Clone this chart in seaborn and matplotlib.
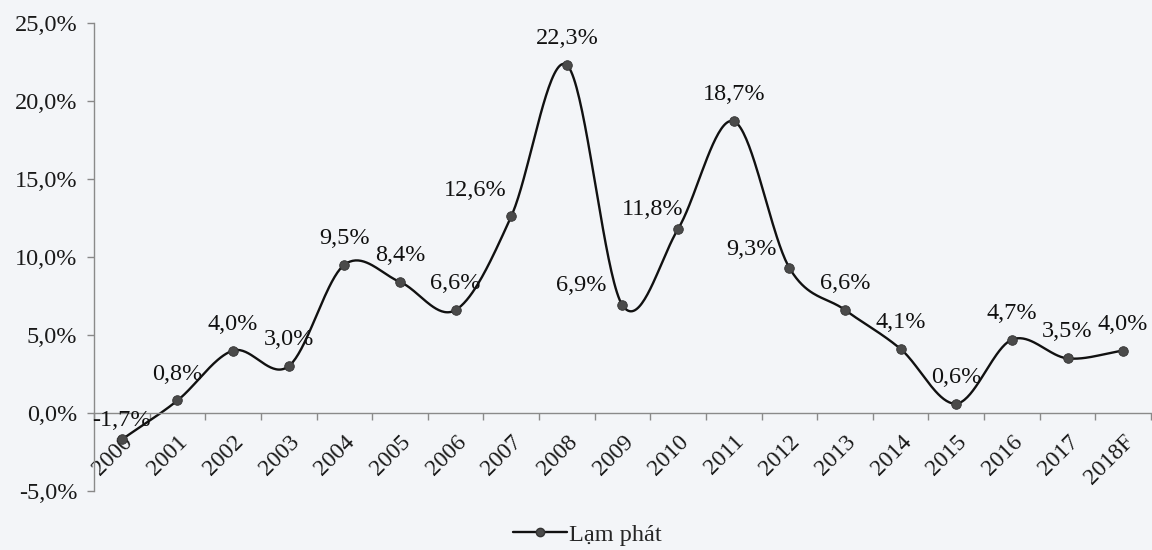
import numpy as np
import pandas as pd
import matplotlib
matplotlib.use("Agg")
import matplotlib.pyplot as plt
from matplotlib.ticker import FuncFormatter, FixedLocator
from matplotlib.lines import Line2D
import seaborn as sns

# Inflation by year (%)
years = ["2000", "2001", "2002", "2003", "2004", "2005", "2006", "2007", "2008", "2009",
         "2010", "2011", "2012", "2013", "2014", "2015", "2016", "2017", "2018F"]
inflation = [-1.7, 0.8, 4.0, 3.0, 9.5, 8.4, 6.6, 12.6, 22.3, 6.9,
             11.8, 18.7, 9.3, 6.6, 4.1, 0.6, 4.7, 3.5, 4.0]
series_name = "Lạm phát"
y_ticks = [-5, 0, 5, 10, 15, 20, 25]

# label placement (points, relative to the marker); default is centred above
label_shift = {"2000": (0, 14), "2007": (-26, 19), "2009": (-30, 14),
               "2010": (-18, 14), "2012": (-27, 13)}
default_shift = (0, 19)

sns.set_theme(style="white")
plt.rcParams["font.family"] = ["Liberation Serif", "DejaVu Serif"]

BG = "#f3f5f8"
FS = 17.5
fig = plt.figure(figsize=(11.52, 5.5), dpi=100, facecolor=BG)
ax = fig.add_axes([0.0816, 0.1073, 0.9175, 0.851], facecolor=BG)

x = np.arange(len(years))
y = np.array(inflation, dtype=float)

# smoothed curve: cubic Hermite with Catmull-Rom tangents
tang = np.empty_like(y)
tang[1:-1] = (y[2:] - y[:-2]) / 2.0
tang[0] = y[1] - y[0]
tang[-1] = y[-1] - y[-2]
xs, ys = [], []
t = np.linspace(0, 1, 40, endpoint=False)
h00 = 2 * t**3 - 3 * t**2 + 1
h10 = t**3 - 2 * t**2 + t
h01 = -2 * t**3 + 3 * t**2
h11 = t**3 - t**2
for i in range(len(y) - 1):
    xs.append(x[i] + t)
    ys.append(h00 * y[i] + h10 * tang[i] + h01 * y[i + 1] + h11 * tang[i + 1])
xs.append([x[-1]])
ys.append([y[-1]])
curve = pd.DataFrame({"x": np.concatenate(xs), "y": np.concatenate(ys)})
points = pd.DataFrame({"x": x, "y": y})

sns.lineplot(data=curve, x="x", y="y", ax=ax, color="#111111", linewidth=1.7,
             sort=False, estimator=None)
sns.scatterplot(data=points, x="x", y="y", ax=ax, color="#4a4a4a", s=48,
                edgecolor="#333333", linewidth=0.6, zorder=5)

# value labels
for yr, xi, v in zip(years, x, inflation):
    dx, dy = label_shift.get(yr, default_shift)
    txt = f"{v:.1f}".replace(".", ",") + "%"
    ax.annotate(txt, (xi, v), xytext=(dx, dy), textcoords="offset points",
                ha="center", va="center", fontsize=FS, color="#111111", zorder=6)

# axes
ax.set_xlim(-0.5, len(years) - 0.5)
ax.set_ylim(-5, 25)
ax.set_xlabel("")
ax.set_ylabel("")
ax.set_yticks(y_ticks)
ax.yaxis.set_major_formatter(FuncFormatter(lambda v, p: f"{v:.1f}".replace(".", ",") + "%"))
ax.tick_params(axis="y", which="major", direction="out", length=5, width=1,
               color="#888888", labelsize=FS, labelcolor="#1a1a1a", pad=7, left=True)

ax.spines["bottom"].set_position(("data", 0))
for s in ["top", "right"]:
    ax.spines[s].set_visible(False)
for s in ["left", "bottom"]:
    ax.spines[s].set_color("#8a8a8a")
    ax.spines[s].set_linewidth(1.0)

ax.set_xticks(x)
ax.set_xticklabels(years, rotation=45, ha="right", va="top", rotation_mode="anchor")
ax.xaxis.set_minor_locator(FixedLocator(np.arange(-0.5, len(years), 1.0)))
ax.tick_params(axis="x", which="major", length=0, labelsize=FS - 0.5,
               labelcolor="#1a1a1a", pad=13)
ax.tick_params(axis="x", which="minor", direction="out", length=5, width=1,
               color="#8a8a8a", bottom=True)
ax.grid(False)

handle = Line2D([], [], color="#111111", linewidth=1.7, marker="o", markersize=6,
                markerfacecolor="#4a4a4a", markeredgecolor="#333333")
fig.legend([handle], [series_name], loc="center", bbox_to_anchor=(0.51, 0.028),
           frameon=False, fontsize=FS, handlelength=2.2, handletextpad=0.1)

fig.savefig("out.png", dpi=100, facecolor=BG)
